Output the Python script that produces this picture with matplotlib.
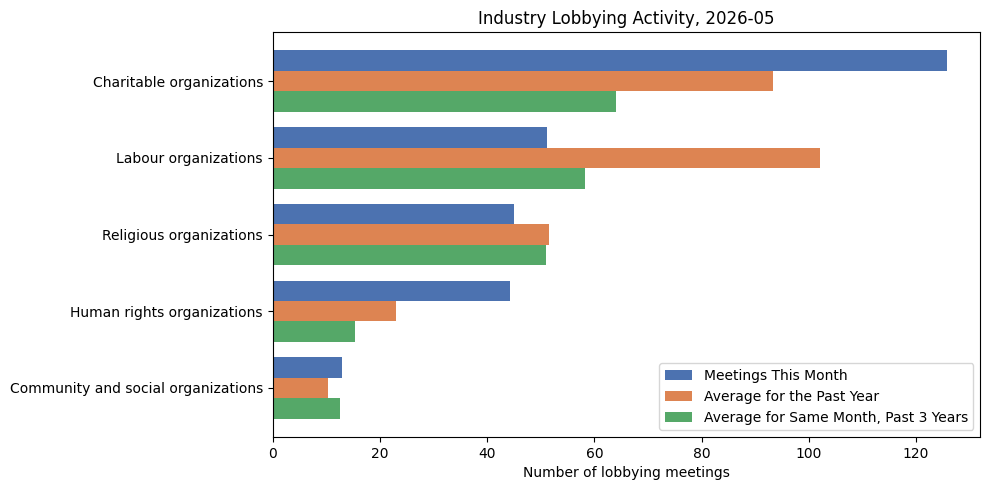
import matplotlib
matplotlib.use("Agg")
import matplotlib.pyplot as plt
import numpy as np

categories = ["Charitable organizations", "Labour organizations", "Religious organizations",
              "Human rights organizations", "Community and social organizations"]
this_month = [125.7, 51.2, 45.1, 44.2, 12.95]
past_year = [93.3, 102.1, 51.5, 23.0, 10.3]
same_month_3y = [64.0, 58.2, 50.9, 15.4, 12.6]
series_names = ["Meetings This Month", "Average for the Past Year",
                "Average for Same Month, Past 3 Years"]
colors = ["#4C72B0", "#DD8452", "#55A868"]

fig, ax = plt.subplots(figsize=(9.9, 4.9), dpi=100)
y = np.arange(len(categories))
h = 0.8 / 3
for i, (vals, name, c) in enumerate(zip([this_month, past_year, same_month_3y], series_names, colors)):
    ax.barh(y + (i - 1) * h, vals, height=h, color=c, label=name)
ax.set_yticks(y)
ax.set_yticklabels(categories)
ax.invert_yaxis()
ax.set_xlabel("Number of lobbying meetings")
ax.set_title("Industry Lobbying Activity, 2026-05")
ax.legend(loc="lower right")
fig.tight_layout(pad=0.7)
fig.savefig("out.png")
